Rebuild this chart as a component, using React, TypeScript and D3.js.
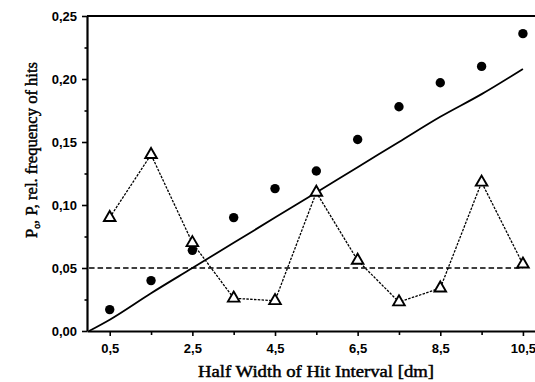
import React, { useRef, useEffect } from "react";
import * as d3 from "d3";

// half widths of the hit interval [dm]
const halfWidths = [0.5, 1.5, 2.5, 3.5, 4.5, 5.5, 6.5, 7.5, 8.5, 9.5, 10.5];
// filled circles: P (rel. frequency of hits)
const pValues = [0.017, 0.04, 0.064, 0.09, 0.113, 0.127, 0.152, 0.178, 0.197, 0.21, 0.236];
// open triangles
const p0Values = [0.09, 0.14, 0.07, 0.026, 0.024, 0.11, 0.056, 0.023, 0.034, 0.118, 0.053];
// solid curve
const curveX = [0, 0.5, 1.5, 2.5, 3.5, 4.5, 5.5, 6.5, 7.5, 8.5, 9.5, 10.5];
const curveY = [0, 0.009, 0.03, 0.05, 0.07, 0.09, 0.11, 0.13, 0.15, 0.17, 0.188, 0.208];
// dashed reference level
const refX = [0, 10.5];
const refLevel = 0.05;

const xMajor = [0.5, 2.5, 4.5, 6.5, 8.5, 10.5];
const xMinor = [1.5, 3.5, 5.5, 7.5, 9.5];
const yMajor = [0, 0.05, 0.1, 0.15, 0.2, 0.25];
const yMinor = [0.025, 0.075, 0.125, 0.175, 0.225];

const W = 535;
const H = 382;
const left = 87;
const top = 16;
const bottom = 331;
const serif = "'Liberation Serif', 'Times New Roman', serif";

const App = () => {
    const canvas = useRef(null);

    useEffect(() => {
        const svg = d3.select(canvas.current);
        svg.selectAll("*").remove();

        const x = d3.scaleLinear().domain([-0.05, 11]).range([left, left + 11.05 * 41.32]);
        const y = d3.scaleLinear().domain([0, 0.25]).range([bottom, top]);
        const comma = (f) => (d) => d3.format(f)(d).replace(".", ",");

        const tickFont = (g) =>
            g
                .selectAll("text")
                .attr("font-family", "'Liberation Sans', Arial, sans-serif")
                .attr("font-weight", "bold")
                .attr("font-size", 13)
                .attr("fill", "#000");

        // minor ticks
        svg.append("g")
            .attr("transform", `translate(0,${bottom})`)
            .call(d3.axisBottom(x).tickValues(xMinor).tickSize(4).tickFormat(() => ""))
            .call((g) => g.select(".domain").remove())
            .call((g) => g.selectAll("line").attr("stroke-width", 1.6));
        svg.append("g")
            .attr("transform", `translate(${left},0)`)
            .call(d3.axisLeft(y).tickValues(yMinor).tickSize(2.5).tickFormat(() => ""))
            .call((g) => g.select(".domain").remove())
            .call((g) => g.selectAll("line").attr("stroke-width", 1.6));

        // major axes
        svg.append("g")
            .attr("transform", `translate(0,${bottom})`)
            .call(d3.axisBottom(x).tickValues(xMajor).tickSize(5).tickPadding(8).tickSizeOuter(0).tickFormat(comma(".1f")))
            .call((g) => g.select(".domain").attr("stroke-width", 2.2))
            .call((g) => g.selectAll("line").attr("stroke-width", 1.6))
            .call(tickFont);
        svg.append("g")
            .attr("transform", `translate(${left},0)`)
            .call(d3.axisLeft(y).tickValues(yMajor).tickSize(5).tickPadding(5).tickSizeOuter(0).tickFormat(comma(".2f")))
            .call((g) => g.select(".domain").attr("stroke-width", 2.2))
            .call((g) => g.selectAll("line").attr("stroke-width", 1.6))
            .call(tickFont);

        // top frame
        svg.append("line")
            .attr("x1", left)
            .attr("x2", W)
            .attr("y1", y(0.25))
            .attr("y2", y(0.25))
            .attr("stroke", "#000")
            .attr("stroke-width", 2.2);

        // dashed reference line
        svg.append("path")
            .attr("d", d3.line()(refX.map((d) => [x(d), y(refLevel)])))
            .attr("fill", "none")
            .attr("stroke", "#000")
            .attr("stroke-width", 1.3)
            .attr("stroke-dasharray", "5.5,3");

        // solid curve
        svg.append("path")
            .attr("d", d3.line().curve(d3.curveMonotoneX)(curveX.map((d, i) => [x(d), y(curveY[i])])))
            .attr("fill", "none")
            .attr("stroke", "#000")
            .attr("stroke-width", 1.8);

        // dotted triangle connection
        svg.append("path")
            .attr("d", d3.line()(halfWidths.map((d, i) => [x(d), y(p0Values[i])])))
            .attr("fill", "none")
            .attr("stroke", "#000")
            .attr("stroke-width", 1.3)
            .attr("stroke-dasharray", "2.5,1.3");

        // circles
        svg.append("g")
            .selectAll("circle")
            .data(halfWidths)
            .enter()
            .append("circle")
            .attr("cx", (d) => x(d))
            .attr("cy", (d, i) => y(pValues[i]))
            .attr("r", 4.7)
            .attr("fill", "#000");

        // triangles
        const tri = d3.symbol().type(d3.symbolTriangle).size(58);
        svg.append("g")
            .selectAll("path")
            .data(halfWidths)
            .enter()
            .append("path")
            .attr("d", tri)
            .attr("transform", (d, i) => `translate(${x(d)},${y(p0Values[i])})`)
            .attr("fill", "#fff")
            .attr("stroke", "#000")
            .attr("stroke-width", 1.9);

        // axis titles (regular serif, thickened with a hairline stroke)
        svg.append("text")
            .attr("x", 316)
            .attr("y", 377)
            .attr("text-anchor", "middle")
            .attr("font-family", serif)
            .attr("font-size", 16)
            .attr("textLength", 236)
            .attr("lengthAdjust", "spacingAndGlyphs")
            .attr("fill", "#000")
            .attr("stroke", "#000")
            .attr("stroke-width", 0.45)
            .text("Half Width of Hit Interval [dm]");

        const yt = svg.append("text")
            .attr("transform", "translate(37,150) rotate(-90)")
            .attr("text-anchor", "middle")
            .attr("font-family", serif)
            .attr("font-size", 17)
            .attr("textLength", 176)
            .attr("lengthAdjust", "spacingAndGlyphs")
            .attr("fill", "#000")
            .attr("stroke", "#000")
            .attr("stroke-width", 0.45);
        yt.append("tspan").text("P");
        yt.append("tspan").attr("font-size", 10).attr("dy", 3).text("o");
        yt.append("tspan").attr("dy", -3).text(", P, rel. frequency of hits");
    }, []);

    return (
        <svg
            ref={canvas}
            width={W}
            height={H}
            style={{ position: "absolute", left: 0, top: 0, background: "#fff" }}
        ></svg>
    );
};

export default App;
